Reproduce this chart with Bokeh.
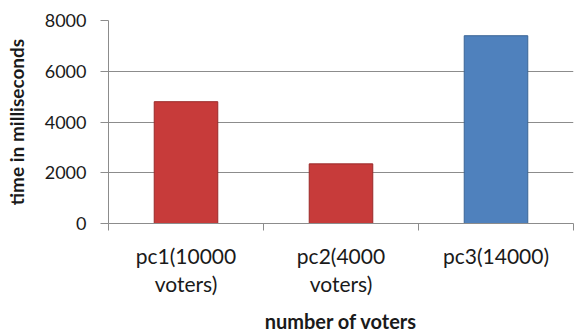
from bokeh.plotting import figure
from bokeh.models import ColumnDataSource, FixedTicker, Range1d
from bokeh.embed import file_html
from bokeh.resources import INLINE

# Processing time per polling configuration
categories = ["pc1(10000\nvoters)", "pc2(4000\nvoters)", "pc3(14000)"]
times_ms = [4800, 2350, 7400]
bar_colors = ["#C73B3A", "#C73B3A", "#4F81BD"]
edge_colors = ["#9A2A29", "#9A2A29", "#3A6596"]
y_ticks = [0, 2000, 4000, 6000, 8000]

centers = [i + 0.5 for i in range(len(categories))]
source = ColumnDataSource(dict(x=centers, top=times_ms, color=bar_colors, edge=edge_colors))

FONT = "Lato"

p = figure(width=575, height=336, output_backend="svg", toolbar_location=None,
           x_range=Range1d(0, len(categories)), y_range=Range1d(0, 8000),
           min_border_left=108, min_border_right=2, min_border_top=20, min_border_bottom=113)
p.outline_line_color = None
p.background_fill_color = "white"

p.vbar(x="x", top="top", width=0.41, bottom=0, source=source,
       fill_color="color", line_color="edge", line_width=1)

# y axis
p.yaxis.ticker = FixedTicker(ticks=y_ticks)
p.yaxis.axis_line_color = "#8C8C8C"
p.yaxis.major_tick_line_color = "#8C8C8C"
p.yaxis.major_tick_out = 8
p.yaxis.major_tick_in = 0
p.yaxis.minor_tick_line_color = None
p.yaxis.major_label_text_font = FONT
p.yaxis.major_label_text_font_size = "18px"
p.yaxis.major_label_text_color = "#1A1A1A"
p.yaxis.major_label_standoff = 14
p.yaxis.axis_label = "time in milliseconds"
p.yaxis.axis_label_text_font = FONT
p.yaxis.axis_label_text_font_style = "bold"
p.yaxis.axis_label_text_font_size = "19px"
p.yaxis.axis_label_text_color = "#1A1A1A"
p.yaxis.axis_label_standoff = 14

# x axis: labels at category centres, tick marks at category boundaries
p.xaxis.ticker = FixedTicker(ticks=centers, minor_ticks=list(range(len(categories) + 1)))
p.xaxis.major_label_overrides = {c: lab for c, lab in zip(centers, categories)}
p.xaxis.axis_line_color = "#8C8C8C"
p.xaxis.major_tick_line_color = None
p.xaxis.minor_tick_line_color = "#8C8C8C"
p.xaxis.minor_tick_out = 7
p.xaxis.minor_tick_in = 0
p.xaxis.major_label_text_font = FONT
p.xaxis.major_label_text_font_size = "21px"
p.xaxis.major_label_text_color = "#1A1A1A"
p.xaxis.major_label_text_line_height = 1.15
p.xaxis.major_label_standoff = 12
p.xaxis.axis_label = "number of voters"
p.xaxis.axis_label_text_font = FONT
p.xaxis.axis_label_text_font_style = "bold"
p.xaxis.axis_label_text_font_size = "20px"
p.xaxis.axis_label_text_color = "#1A1A1A"
p.xaxis.axis_label_standoff = 10

p.xgrid.grid_line_color = None
p.ygrid.ticker = FixedTicker(ticks=y_ticks)
p.ygrid.grid_line_color = "#8C8C8C"
p.ygrid.grid_line_width = 1

open("out.html", "w").write(file_html(p, INLINE))
